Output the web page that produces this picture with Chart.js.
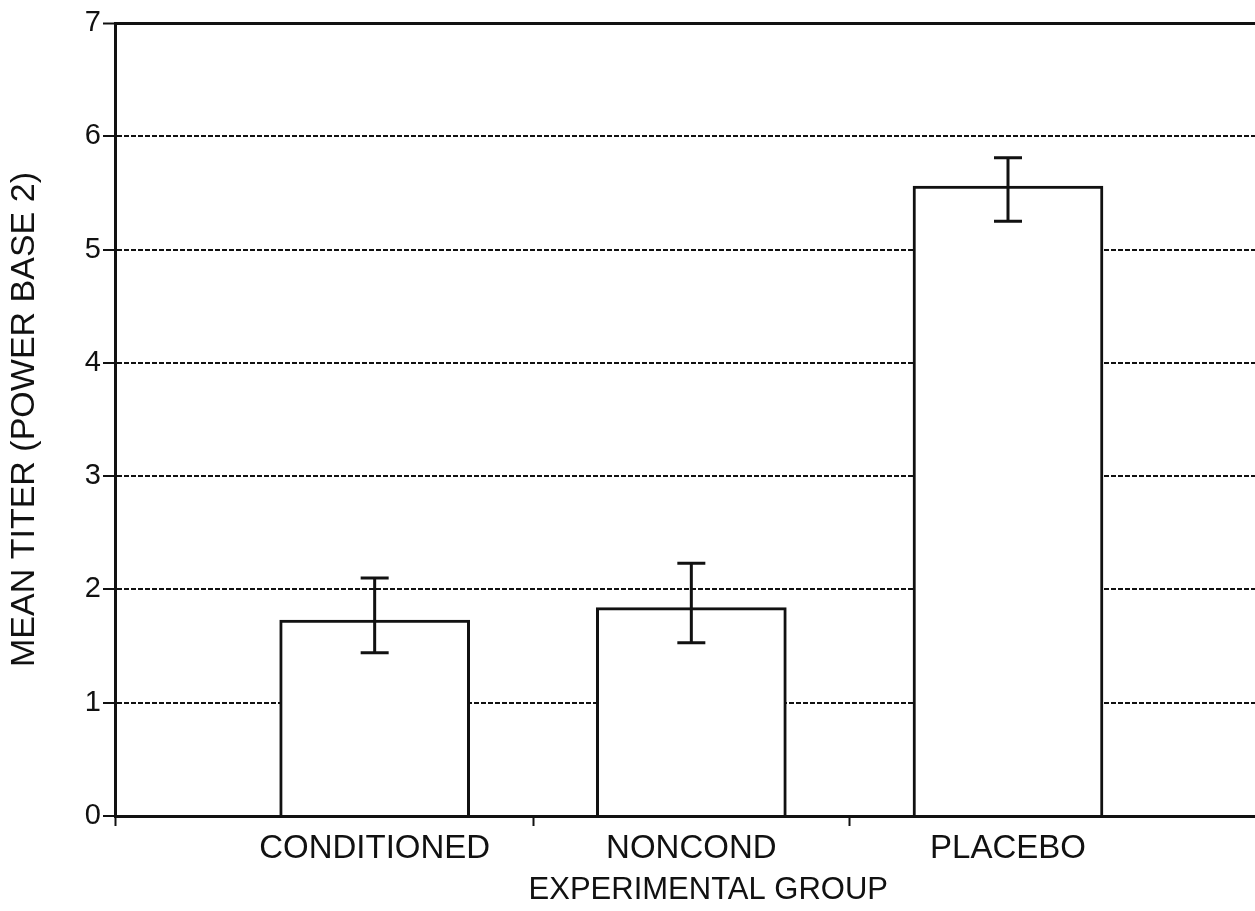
<!DOCTYPE html>
<html>
<head>
<meta charset="utf-8">
<script src="https://cdn.jsdelivr.net/npm/chart.js@4"></script>
<style>
  html, body { margin: 0; padding: 0; background: #ffffff; }
  #wrap { width: 1255px; height: 911px; }
</style>
</head>
<body>
<div id="wrap"><canvas id="titer" width="1255" height="911"></canvas></div>
<script>
// Mean antibody titer by experimental group, with error bars
const groups = ['CONDITIONED', 'NONCOND', 'PLACEBO'];
const meanTiter = [1.73, 1.84, 5.56];
const errUpper = [2.10, 2.23, 5.81];
const errLower = [1.44, 1.53, 5.25];
const yTicks = [0, 1, 2, 3, 4, 5, 6, 7];

const INK = '#111111';
const FONT = "'Liberation Sans', Arial, Helvetica, sans-serif";

// x range of the plotting window (groups sit at 1, 2, 3)
const X_MIN = 0.18;
const X_MAX = 3.78;

const errorBars = {
  id: 'errorBars',
  afterDatasetsDraw(chart) {
    const { ctx, scales: { x, y } } = chart;
    const cap = 14;
    ctx.save();
    ctx.strokeStyle = INK;
    ctx.lineWidth = 3;
    ctx.lineCap = 'butt';
    groups.forEach((g, i) => {
      const px = x.getPixelForValue(i + 1);
      const top = y.getPixelForValue(errUpper[i]);
      const bot = y.getPixelForValue(errLower[i]);
      ctx.beginPath();
      ctx.moveTo(px, top); ctx.lineTo(px, bot);
      ctx.moveTo(px - cap, top); ctx.lineTo(px + cap, top);
      ctx.moveTo(px - cap, bot); ctx.lineTo(px + cap, bot);
      ctx.stroke();
    });
    ctx.restore();
  }
};

new Chart(document.getElementById('titer'), {
  type: 'bar',
  data: {
    datasets: [{
      data: groups.map((g, i) => ({ x: i + 1, y: meanTiter[i] })),
      backgroundColor: '#ffffff',
      borderColor: INK,
      borderWidth: 3,
      borderSkipped: 'bottom',
      barThickness: 190
    }]
  },
  options: {
    responsive: false,
    devicePixelRatio: 1,
    animation: false,
    layout: { padding: { top: 23, right: 0, bottom: 0, left: 0 } },
    plugins: { legend: { display: false }, tooltip: { enabled: false } },
    scales: {
      x: {
        type: 'linear',
        offset: false,
        min: X_MIN,
        max: X_MAX,
        afterBuildTicks(scale) {
          scale.ticks = [X_MIN, 1, 1.5, 2, 2.5, 3].map(v => ({ value: v }));
        },
        afterFit(scale) { scale.height = 95; },
        ticks: {
          autoSkip: false,
          maxRotation: 0,
          padding: 3,
          color: INK,
          font: { family: FONT, size: 33 },
          callback: (v) => Number.isInteger(v) ? groups[v - 1] : ''
        },
        grid: {
          offset: false,
          drawOnChartArea: false,
          drawTicks: true,
          tickLength: 10,
          tickWidth: 2,
          tickColor: (c) => (c.tick && Number.isInteger(c.tick.value)) ? 'rgba(0,0,0,0)' : INK
        },
        border: { display: true, color: INK, width: 3 },
        title: {
          display: true,
          text: '\u2002\u2002\u2002EXPERIMENTAL GROUP',
          color: INK,
          font: { family: FONT, size: 31 },
          padding: { top: 0, bottom: 2 }
        }
      },
      y: {
        type: 'linear',
        min: 0,
        max: 7,
        afterBuildTicks(scale) {
          scale.ticks = yTicks.map(v => ({ value: v }));
        },
        afterFit(scale) { scale.width = 115; },
        ticks: {
          padding: 2,
          color: INK,
          font: { family: FONT, size: 29 }
        },
        grid: {
          drawOnChartArea: true,
          drawTicks: true,
          tickLength: 12,
          color: INK,
          tickColor: INK,
          tickWidth: 2,
          lineWidth: (c) => (c.tick && c.tick.value === 7) ? 3 : 2
        },
        border: {
          display: true,
          color: INK,
          width: 3,
          dash: (c) => (c.tick && c.tick.value > 0 && c.tick.value < 7) ? [5, 2] : []
        },
        title: {
          display: true,
          text: 'MEAN TITER (POWER BASE 2)',
          color: INK,
          font: { family: FONT, size: 34 },
          padding: { top: 4, bottom: 0 }
        }
      }
    }
  },
  plugins: [errorBars]
});
</script>
</body>
</html>
